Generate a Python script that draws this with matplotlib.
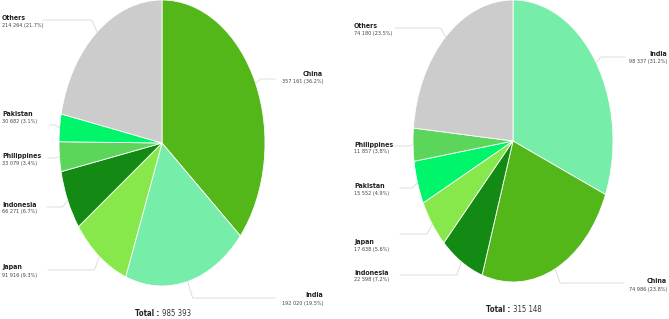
import matplotlib
matplotlib.use("Agg")
import matplotlib.pyplot as plt
from matplotlib.lines import Line2D
import numpy as np

plt.rcParams['font.family'] = ['DejaVu Sans']
plt.rcParams['font.stretch'] = 'condensed'

# left chart (clockwise from 12 o'clock)
left_names = ["China", "India", "Japan", "Indonesia", "Philippines", "Pakistan", "Others"]
left_values = [357161, 192020, 91916, 66271, 33079, 30682, 214264]
left_labels = ["357 161 (36.2%)", "192 020 (19.5%)", "91 916 (9.3%)", "66 271 (6.7%)",
               "33 079 (3.4%)", "30 682 (3.1%)", "214 264 (21.7%)"]
left_total = "985 393"

# right chart
right_names = ["India", "China", "Indonesia", "Japan", "Pakistan", "Philippines", "Others"]
right_values = [98337, 74986, 22598, 17638, 15552, 11857, 74180]
right_labels = ["98 337 (31.2%)", "74 986 (23.8%)", "22 598 (7.2%)", "17 638 (5.6%)",
                "15 552 (4.9%)", "11 857 (3.8%)", "74 180 (23.5%)"]
right_total = "315 148"

colors = {
    "China": "#53b71a",
    "India": "#76eea9",
    "Japan": "#87e84b",
    "Indonesia": "#138a13",
    "Philippines": "#5bd65b",
    "Pakistan": "#00f56a",
    "Others": "#cccccc",
}

W, H = 669, 319
fig = plt.figure(figsize=(W / 100, H / 100), dpi=100)


def fx(x):
    return x / W


def fy(y):
    return 1 - y / H


# label layout in pixels: text x, align, name y, value y, leader y, leader end x
left_layout = {
    "China": (323, "right", 74, 82, 79, 275),
    "India": (323, "right", 295, 303, 298, 275),
    "Japan": (2, "left", 267, 275, 270, 48),
    "Indonesia": (2, "left", 205, 212, 207, 47),
    "Philippines": (2, "left", 156, 164, 158, 48),
    "Pakistan": (2, "left", 114, 122, 125, 50),
    "Others": (2, "left", 18, 25, 20, 43),
}
right_layout = {
    "India": (667, "right", 54, 62, 57, 625),
    "China": (667, "right", 281, 290, 283, 623),
    "Indonesia": (354, "left", 273, 280, 275, 400),
    "Japan": (354, "left", 242, 249, 234, 400),
    "Pakistan": (354, "left", 186, 193, 188, 400),
    "Philippines": (354, "left", 145, 152, 146, 393),
    "Others": (354, "left", 26, 33, 28, 395),
}


def draw_pie(rect, names, values, labels, layout, total, total_y):
    ax = fig.add_axes(rect)
    wedges, _ = ax.pie(values, colors=[colors[n] for n in names], startangle=90,
                       counterclock=False, radius=1.0,
                       wedgeprops=dict(edgecolor="white", linewidth=0.6))
    ax.set_aspect("auto")
    ax.set_xlim(-1, 1)
    ax.set_ylim(-1, 1)
    ax.axis("off")
    fig.canvas.draw()
    to_fig = ax.transData + fig.transFigure.inverted()
    for w, name, lab in zip(wedges, names, labels):
        tx, ha, ny, vy, ly, lx = layout[name]
        ang = np.deg2rad((w.theta1 + w.theta2) / 2)
        px, py = to_fig.transform((np.cos(ang), np.sin(ang)))
        side = 1 if ha == "right" else -1
        ex = px + side * 5 / W
        line = Line2D([px, ex, fx(lx)], [py, fy(ly), fy(ly)],
                      transform=fig.transFigure, color="#dddddd", lw=0.7)
        fig.add_artist(line)
        fig.text(fx(tx), fy(ny), name, ha=ha, va="center", fontsize=5.0,
                 fontweight="bold", color="#222222")
        fig.text(fx(tx), fy(vy), lab, ha=ha, va="center", fontsize=4.0,
                 color="#444444")
    cx = rect[0] + rect[2] / 2
    fig.text(cx, fy(total_y), "Total : ", ha="right", va="center", fontsize=5.6,
             fontweight="bold", color="#222222")
    fig.text(cx, fy(total_y), total, ha="left", va="center", fontsize=5.6,
             color="#333333")


draw_pie([fx(59), fy(286), fx(206), 286 / H], left_names, left_values, left_labels,
         left_layout, left_total, 314)
draw_pie([fx(413), fy(282), fx(200), 282 / H], right_names, right_values, right_labels,
         right_layout, right_total, 310)

fig.savefig("out.png", dpi=100, facecolor="white")
